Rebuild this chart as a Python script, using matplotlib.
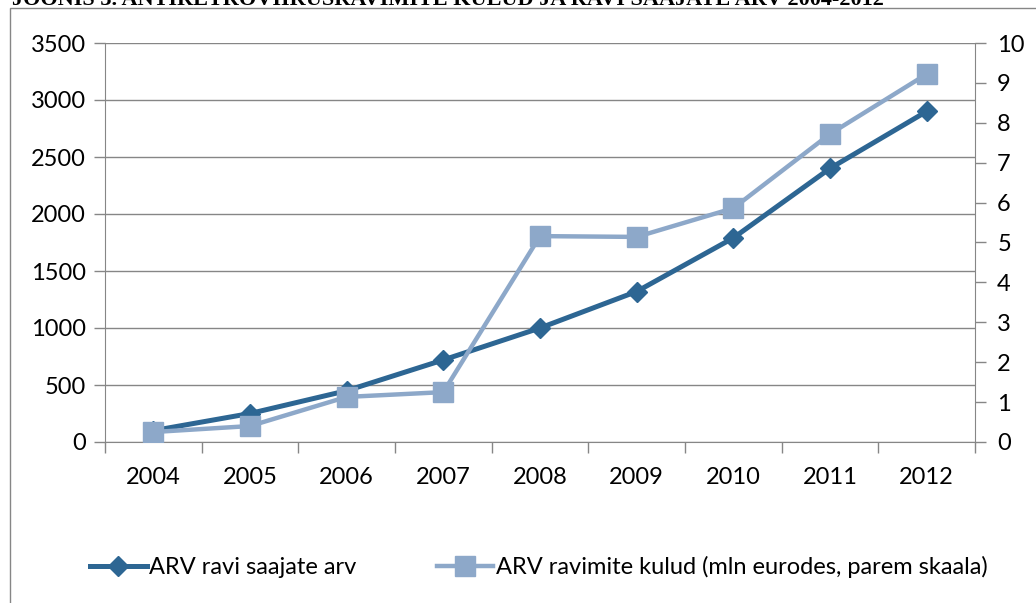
import matplotlib.pyplot as plt
import numpy as np
from matplotlib.patches import Rectangle
from matplotlib.lines import Line2D

years = ['2004', '2005', '2006', '2007', '2008', '2009', '2010', '2011', '2012']
patients = [100, 250, 450, 720, 1000, 1320, 1790, 2400, 2900]
costs = [0.25, 0.4, 1.13, 1.25, 5.16, 5.14, 5.86, 7.72, 9.22]

dark = '#2D6693'
light = '#8DA8C9'
gray = '#868686'

plt.rcParams['font.family'] = ['Lato', 'DejaVu Sans']

fig = plt.figure(figsize=(10.36, 6.03), dpi=100)
fig.patches.append(Rectangle((10 / 1036, -0.1), 1.2, 1 - 8 / 603 + 0.1,
                             transform=fig.transFigure, fill=False,
                             edgecolor=gray, linewidth=1))
# the caption above the chart is cut off by the top edge, as in the original
fig.text(0.012, 1.0, 'JOONIS 3. ANTIRETROVIIRUSRAVIMITE KULUD JA RAVI SAAJATE ARV 2004-2012',
         family='Liberation Serif', weight='bold', fontsize=16, va='center', ha='left')

ax = fig.add_axes([105 / 1036, 1 - 442 / 603, 870 / 1036, 399 / 603])
x = np.arange(len(years))

ax.plot(x, patients, color=dark, linewidth=3.6, marker='D', markersize=10.5,
        markerfacecolor=dark, markeredgecolor=dark, zorder=3)
ax.set_xlim(-0.5, len(years) - 0.5)
ax.set_ylim(0, 3500)
ax.set_yticks(range(0, 3501, 500))
ax.grid(axis='y', color=gray, linewidth=1)
ax.set_axisbelow(True)

ax.set_xticks(np.arange(-0.5, len(years)))
ax.set_xticklabels([])
ax.set_xticks(x, minor=True)
ax.set_xticklabels(years, minor=True)
ax.tick_params(axis='x', which='major', length=8, color=gray, width=1)
ax.tick_params(axis='x', which='minor', length=0, pad=18, labelsize=17)
ax.tick_params(axis='y', length=8, color=gray, width=1, labelsize=17, pad=6)

for side in ['top', 'right']:
    ax.spines[side].set_visible(False)
for side in ['left', 'bottom']:
    ax.spines[side].set_color(gray)

ax2 = ax.twinx()
ax2.plot(x, costs, color=light, linewidth=3.2, marker='s', markersize=14,
         markerfacecolor=light, markeredgecolor=light, zorder=4)
ax2.set_ylim(0, 10)
ax2.set_yticks(range(0, 11))
ax2.tick_params(axis='y', length=8, color=gray, width=1, labelsize=17, pad=8)
for side in ['top', 'left', 'bottom']:
    ax2.spines[side].set_visible(False)
ax2.spines['right'].set_color(gray)

handles = [
    Line2D([], [], color=dark, linewidth=3.6, marker='D', markersize=10.5),
    Line2D([], [], color=light, linewidth=3.2, marker='s', markersize=14),
]
fig.legend(handles, ['ARV ravi saajate arv', 'ARV ravimite kulud (mln eurodes, parem skaala)'],
           loc='center', bbox_to_anchor=(0.52, 1 - 567 / 603), ncol=2, frameon=False,
           fontsize=17, handlelength=2.4, handletextpad=0.1, columnspacing=3.4)

fig.savefig('out.png', dpi=100)
